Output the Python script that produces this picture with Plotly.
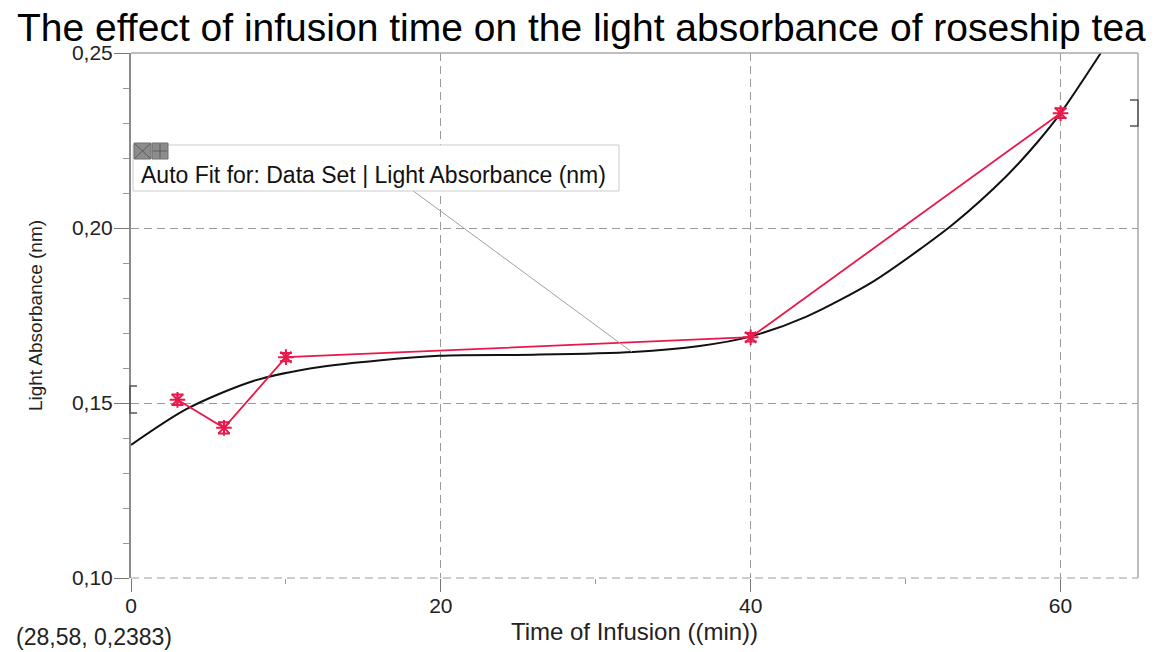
import plotly.graph_objects as go

# ---- data ----
time_min = [3, 6, 10, 40, 60]
absorbance = [0.1509, 0.1429, 0.1631, 0.1688, 0.2328]
abs_err = [0.0015, 0.0016, 0.0012, 0.0012, 0.0014]

fit_x = [0, 3.6, 7.9, 12.2, 19.9, 26.0, 32.4, 36.7, 39.9, 43.6, 47.9, 51.1, 53.1, 56.5, 58.6, 60.0, 62.6]
fit_y = [0.1380, 0.1483, 0.1563, 0.1603, 0.1635, 0.1638, 0.1646, 0.1663, 0.1689, 0.1747, 0.1847,
         0.1945, 0.2012, 0.2148, 0.2250, 0.2328, 0.2500]

x_ticks = [0, 20, 40, 60]
y_ticks = [0.10, 0.15, 0.20, 0.25]

title_text = "The effect of infusion time on the light absorbance of roseship tea"
x_title = "Time of Infusion ((min))"
y_title = "Light Absorbance (nm)"
legend_text = "Auto Fit for: Data Set | Light Absorbance (nm)"
cursor_text = "(28,58, 0,2383)"

W, H = 1161, 652
ML, MR, MT, MB = 131, 23, 53, 74
PW, PH = W - ML - MR, H - MT - MB


def px(xp):
    return (xp - ML) / PW


def py(yp):
    return (H - MB - yp) / PH


FONT = "Liberation Sans, Arial, sans-serif"
RED = "#e8194b"
GRID = "#9a9a9a"

fig = go.Figure()

fig.add_trace(go.Scatter(
    x=fit_x, y=fit_y, mode="lines",
    line=dict(color="#111111", width=2, shape="spline", smoothing=0.8),
    hoverinfo="skip", showlegend=False))

fig.add_trace(go.Scatter(
    x=time_min, y=absorbance, mode="lines+markers",
    line=dict(color=RED, width=1.8),
    marker=dict(symbol="asterisk-open", size=13, color=RED, line=dict(color=RED, width=2)),
    error_y=dict(type="data", array=abs_err, color=RED, thickness=2, width=6),
    showlegend=False))

shapes = []
# top and right border, dashed bottom edge (grid line at the range minimum)
shapes.append(dict(type="line", xref="paper", yref="paper", x0=0, x1=1, y0=1, y1=1,
                   line=dict(color="#a8a8a8", width=1.5)))
shapes.append(dict(type="line", xref="paper", yref="paper", x0=1, x1=1, y0=0, y1=1,
                   line=dict(color="#a8a8a8", width=1.5)))
shapes.append(dict(type="line", xref="paper", yref="paper", x0=0, x1=1, y0=0, y1=0, layer="below",
                   line=dict(color=GRID, width=1, dash="8px,5px")))
# brackets
for (xa, xb, ya, yb) in [(px(130), px(137), py(386), py(413)), (px(1138), px(1130), py(100), py(126))]:
    shapes.append(dict(type="path", xref="paper", yref="paper",
                       path=f"M {xb} {ya} L {xa} {ya} L {xa} {yb} L {xb} {yb}",
                       line=dict(color="#555555", width=1.5)))
# leader line from the fit label to the curve
shapes.append(dict(type="line", xref="paper", yref="paper", x0=px(412), y0=py(190), x1=px(632), y1=py(352),
                   line=dict(color="#a0a0a0", width=1)))
# label box
shapes.append(dict(type="rect", xref="paper", yref="paper", x0=px(133), x1=px(619), y0=py(145), y1=py(191),
                   line=dict(color="#cccccc", width=1), fillcolor="white", layer="above"))
# icons
for (a, b) in [(134, 151), (152, 168)]:
    shapes.append(dict(type="rect", xref="paper", yref="paper", x0=px(a), x1=px(b), y0=py(143), y1=py(159),
                       line=dict(color="#6f6f6f", width=1), fillcolor="#8c8c8c", layer="above"))
shapes.append(dict(type="path", xref="paper", yref="paper",
                   path=f"M {px(135)} {py(144)} L {px(150)} {py(158)} M {px(150)} {py(144)} L {px(135)} {py(158)}",
                   line=dict(color="#5c5c5c", width=1), layer="above"))
shapes.append(dict(type="path", xref="paper", yref="paper",
                   path=f"M {px(160)} {py(144)} L {px(160)} {py(158)} M {px(153)} {py(151)} L {px(167)} {py(151)}",
                   line=dict(color="#5c5c5c", width=1), layer="above"))

annotations = [
    dict(text=title_text, xref="paper", yref="paper", x=px(581), y=py(27), xanchor="center", yanchor="middle",
         showarrow=False, font=dict(family=FONT, size=39, color="#000000")),
    dict(text=legend_text, xref="paper", yref="paper", x=px(139), y=py(175), xanchor="left", yanchor="middle",
         showarrow=False, font=dict(family=FONT, size=23, color="#111111")),
    dict(text=cursor_text, xref="paper", yref="paper", x=px(14), y=py(637), xanchor="left", yanchor="middle",
         showarrow=False, font=dict(family=FONT, size=23, color="#222222")),
]

fig.update_layout(
    width=W, height=H,
    margin=dict(l=ML, r=MR, t=MT, b=MB, pad=0, autoexpand=False),
    paper_bgcolor="white", plot_bgcolor="white",
    separators=",.",
    shapes=shapes, annotations=annotations,
    font=dict(family=FONT, color="#222222"),
)

fig.update_xaxes(
    automargin=False,
    range=[0, 65], tickvals=x_ticks, ticks="outside", ticklen=13, tickcolor="#777777", tickwidth=1,
    ticklabelstandoff=-4,
    tickfont=dict(family=FONT, size=21, color="#222222"),
    showgrid=True, gridcolor=GRID, griddash="8px,5px", gridwidth=1,
    zeroline=False, showline=False,
    minor=dict(dtick=10, ticks="outside", ticklen=5, tickcolor="#999999", showgrid=False),
    title=dict(text=x_title, font=dict(family=FONT, size=24, color="#222222"), standoff=6),
)
fig.update_yaxes(
    automargin=False,
    range=[0.10, 0.25], tickvals=y_ticks, tickformat=".2f", ticks="outside", ticklen=15,
    tickcolor="#777777", tickwidth=1, ticklabelstandoff=-3,
    tickfont=dict(family=FONT, size=21, color="#222222"),
    showgrid=True, gridcolor=GRID, griddash="8px,5px", gridwidth=1,
    zeroline=False, showline=True, linecolor="#8a8a8a", linewidth=2,
    minor=dict(dtick=0.01, tick0=0.10, ticks="outside", ticklen=6, tickcolor="#999999", showgrid=False),
    title=dict(text=y_title, font=dict(family=FONT, size=19, color="#222222"), standoff=24),
)

fig.write_html("out.html", config={"displayModeBar": False},
               post_script="document.body.style.margin='0';document.body.style.overflow='hidden';")
